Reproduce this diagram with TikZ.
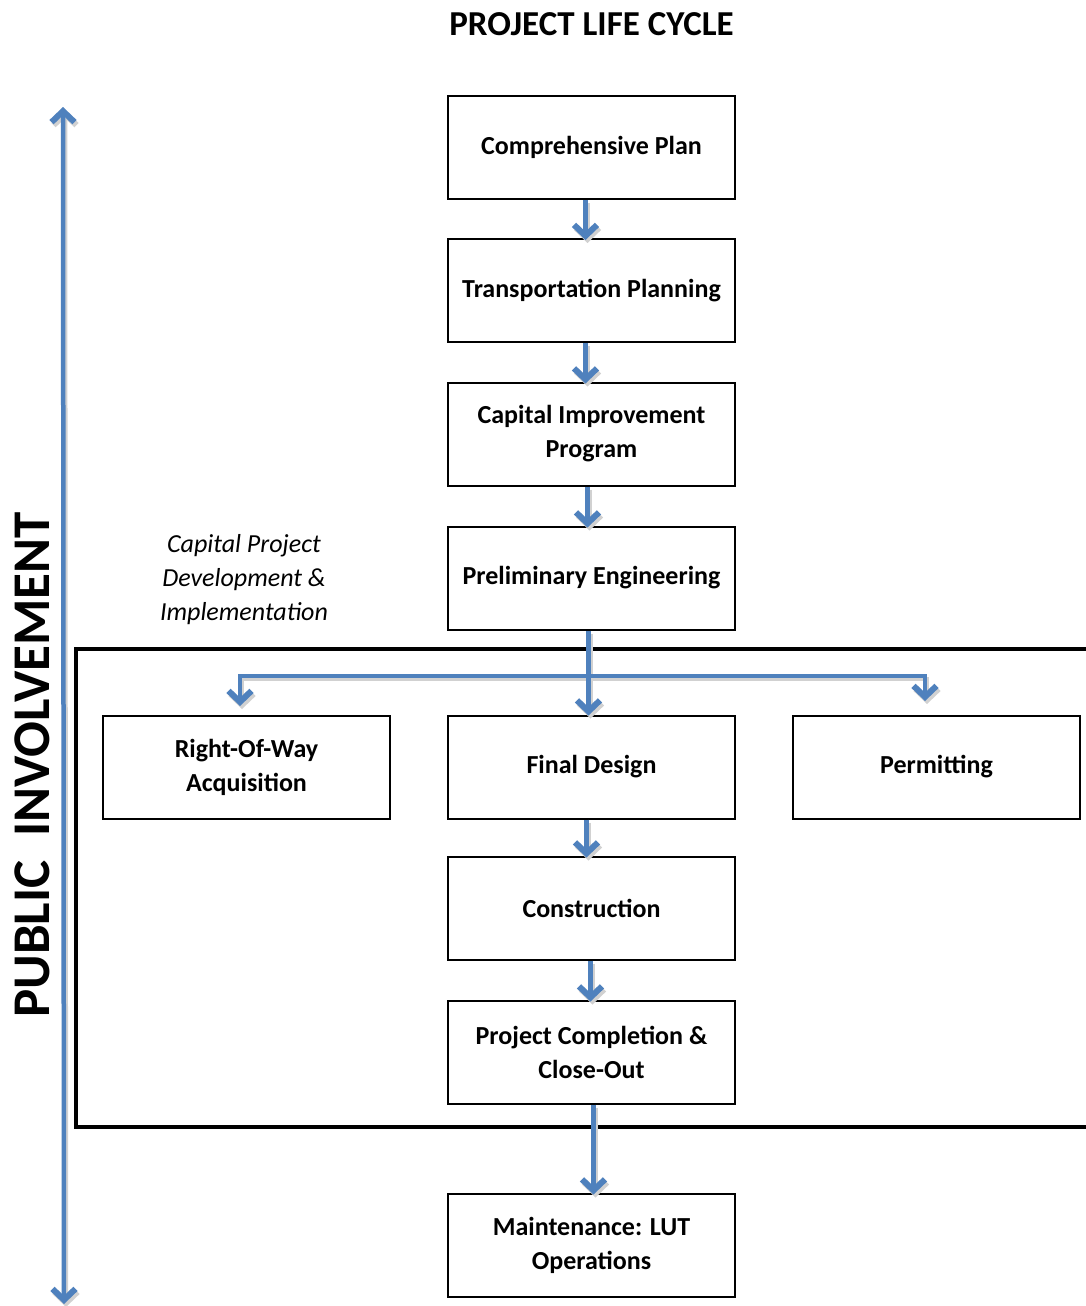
\documentclass[tikz,border=0pt]{standalone}
\usepackage{fontspec}
\setmainfont{Carlito}
\usetikzlibrary{arrows.meta}
\definecolor{arrowblue}{HTML}{4F81BD}
\newcommand\drawflows{%
  \draw[flow] ([xshift=-6pt]cp.south) -- ([xshift=-6pt,yshift=-2pt]tp.north);
  \draw[flow] ([xshift=-6pt]tp.south) -- ([xshift=-6pt,yshift=-2pt]cip.north);
  \draw[flow] ([xshift=-4pt]cip.south) -- ([xshift=-4pt,yshift=-2pt]pe.north);
  \draw[flow] ([xshift=-3pt]pe.south) -- ([xshift=-3pt,yshift=-1pt]fd.north);
  \draw[flowboth] (rowtip) |- (branchr) -- (permtip);
  \draw[flow] ([xshift=-5pt]fd.south) -- ([xshift=-5pt,yshift=-2pt]con.north);
  \draw[flow] ([xshift=-1pt]con.south) -- ([xshift=-1pt,yshift=-2pt]pcc.north);
  \draw[flow] ([xshift=2pt]pcc.south) -- ([xshift=2pt,yshift=-2pt]mnt.north);
  \draw[flowboth] (pitop) -- (pibot);
}
\begin{document}
\begin{tikzpicture}[x=1pt,y=-1pt,
  stage/.style={draw, line width=2pt, minimum width=287pt, minimum height=103pt,
    align=center, inner sep=0pt, font=\fontsize{26}{34}\selectfont\bfseries},
  flowcol/.style={draw=arrowblue},
  flow/.style={flowcol, line width=4.5pt, line join=miter,
    -{Straight Barb[length=11pt,width=23pt,line width=6pt]}},
  flowboth/.style={flowcol, line width=4.5pt, line join=miter,
    {Straight Barb[length=11pt,width=23pt,line width=6pt]}-{Straight Barb[length=11pt,width=23pt,line width=6pt]}},
]
\useasboundingbox (0,0) rectangle (1086,1306);
\fill[white] (0,0) rectangle (1086,1306);

% title
\node[font=\fontsize{35}{40}\selectfont\bfseries] (title) at (591.5,24) {PROJECT LIFE CYCLE};

% side label
\node[font=\fontsize{53}{60}\selectfont\bfseries, rotate=90] (pub) at (32,765) {PUBLIC\ \ INVOLVEMENT};

% italic note
\node[font=\fontsize{26}{34}\selectfont\itshape, align=center] (note) at (244,580)
  {Capital Project\\Development \&\\Implementation};

% frame
\draw[line width=4pt] (1096,649) -| (76,1127) -- (1096,1127);

% stages
\node[stage] (cp)   at (591.5,147.5) {Comprehensive Plan};
\node[stage] (tp)   at (591.5,290.5) {Transportation Planning};
\node[stage] (cip)  at (591.5,434)   {Capital Improvement\\Program};
\node[stage] (pe)   at (591.5,578)   {Preliminary Engineering};
\node[stage] (row)  at (246.5,767)   {Right-Of-Way\\Acquisition};
\node[stage] (fd)   at (591.5,767)   {Final Design};
\node[stage] (perm) at (936.5,767)   {Permitting};
\node[stage] (con)  at (591.5,908)   {Construction};
\node[stage] (pcc)  at (591.5,1052)  {Project Completion \&\\Close-Out};
\node[stage] (mnt)  at (591.5,1245)  {Maintenance: LUT\\Operations};

% free ends
\coordinate (rowtip) at (240,706);
\coordinate (branchr) at (925,676);
\coordinate (permtip) at (925,701);
\coordinate (pitop) at (63,107);
\coordinate (pibot) at (64,1304);

% shadows
\begin{scope}[transform canvas={shift={(2pt,-3pt)}}, flowcol/.style={draw=black!18}]
  \drawflows
\end{scope}
% connectors
\drawflows
\end{tikzpicture}
\end{document}
